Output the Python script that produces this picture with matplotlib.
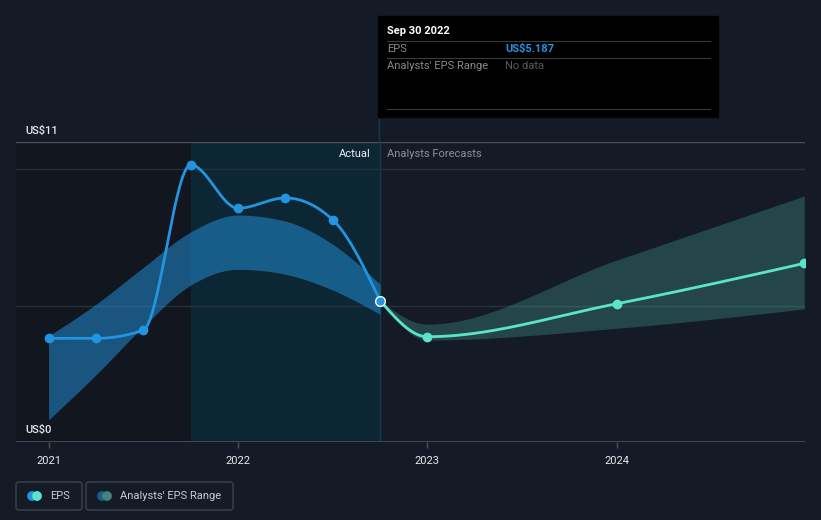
import numpy as np
import matplotlib
matplotlib.use('Agg')
import matplotlib.pyplot as plt
from matplotlib.patches import Rectangle, FancyBboxPatch, Circle

plt.rcParams['font.family'] = ['Roboto', 'DejaVu Sans']

# actual EPS, quarterly (decimal years)
past_x = [2021.0, 2021.25, 2021.5, 2021.75, 2022.0, 2022.25, 2022.5, 2022.75]
past_eps = [3.80, 3.80, 4.10, 10.16, 8.57, 8.95, 8.15, 5.187]
# band shown over the actual period
past_hi = [3.89, 5.05, 6.40, 7.70, 8.32, 8.10, 7.25, 5.79]
past_lo = [0.81, 2.46, 4.23, 5.75, 6.33, 6.15, 5.57, 4.68]

# analysts forecasts
fc_x = [2022.75, 2023.0, 2024.0, 2024.99]
fc_eps = [5.187, 3.86, 5.07, 6.55]
fc_hi = [5.187, 4.32, 6.67, 9.02]
fc_lo = [5.187, 3.74, 4.17, 4.88]

xticks = [2021, 2022, 2023, 2024]
xlabels = ['2021', '2022', '2023', '2024']

BG = '#151b26'
BLUE = '#2394df'
TEAL = '#5ce3cb'


def monotone(xs, ys, n=60):
    # monotone cubic (same idea as d3 curveMonotoneX) for the smooth lines
    xs = np.asarray(xs, float)
    ys = np.asarray(ys, float)
    h = np.diff(xs)
    s = np.diff(ys) / h
    t = np.zeros(len(xs))
    for i in range(1, len(xs) - 1):
        p = (s[i - 1] * h[i] + s[i] * h[i - 1]) / (h[i - 1] + h[i])
        t[i] = (np.sign(s[i - 1]) + np.sign(s[i])) * min(abs(s[i - 1]), abs(s[i]), 0.5 * abs(p))
    t[0] = (3 * s[0] - t[1]) / 2 if len(xs) > 2 else s[0]
    t[-1] = (3 * s[-1] - t[-2]) / 2 if len(xs) > 2 else s[-1]
    outx, outy = [], []
    for i in range(len(xs) - 1):
        u = np.linspace(0, 1, n)
        h00 = 2 * u**3 - 3 * u**2 + 1
        h10 = u**3 - 2 * u**2 + u
        h01 = -2 * u**3 + 3 * u**2
        h11 = u**3 - u**2
        outx.extend(xs[i] + u * h[i])
        outy.extend(h00 * ys[i] + h10 * h[i] * t[i] + h01 * ys[i + 1] + h11 * h[i] * t[i + 1])
    return np.array(outx), np.array(outy)


W, H = 821, 520
fig = plt.figure(figsize=(W / 100, H / 100), dpi=100, facecolor=BG)


def fx(x):
    return x / W


def fy(y):
    return 1 - y / H


ax = fig.add_axes([fx(16), fy(442), fx(805) - fx(16), fy(142) - fy(442)])
ax.set_facecolor(BG)
ax.set_xlim(2020.828, 2024.994)
ax.set_ylim(0, 11)
for sp in ax.spines.values():
    sp.set_visible(False)

# past area and hover highlight
ax.axvspan(2020.828, 2022.75, color='#11161f', zorder=0)
ax.axvspan(2021.75, 2022.75, color='#0c2634', zorder=0.5)
ax.axvline(2022.75, color='#123b4b', lw=1, zorder=0.6)
# hover line continues up to the tooltip
fig.lines.append(plt.Line2D([fx(379), fx(379)], [fy(142), fy(117)], transform=fig.transFigure,
                            color='#123b4b', lw=1))

# gridlines
ax.axhline(11, color='#4b5059', lw=1, zorder=1)
ax.axhline(10, color='#2a303a', lw=1, zorder=1)
ax.axhline(5, color='#2a303a', lw=1, zorder=1)
ax.axhline(0, color='#4b5059', lw=1.2, zorder=1)

# bands
bx, bh = monotone(past_x, past_hi)
_, bl = monotone(past_x, past_lo)
ax.fill_between(bx, bl, bh, color=BLUE, alpha=0.5, lw=0, zorder=2)
fx_, fh = monotone(fc_x, fc_hi)
_, fl = monotone(fc_x, fc_lo)
ax.fill_between(fx_, fl, fh, color=TEAL, alpha=0.22, lw=0, zorder=2)

# lines
lx, ly = monotone(fc_x, fc_eps)
ax.plot(lx, ly, color=TEAL, lw=2, zorder=3, solid_capstyle='round')
ax.plot(fc_x[1:], fc_eps[1:], 'o', color=TEAL, ms=6, zorder=4)
lx, ly = monotone(past_x, past_eps)
ax.plot(lx, ly, color=BLUE, lw=2, zorder=3, solid_capstyle='round')
ax.plot(past_x[:-1], past_eps[:-1], 'o', color=BLUE, ms=6, zorder=4)
ax.plot(past_x[-1:], past_eps[-1:], 'o', color=BLUE, ms=7, mec='white', mew=1, zorder=5)

ax.set_xticks(xticks)
ax.set_xticklabels(xlabels)
ax.set_yticks([])
ax.tick_params(axis='x', colors='#4b5059', length=4, width=1, pad=6,
               labelcolor='#e8e8ea', labelsize=8)

# text on the plot
fig.text(fx(25), fy(131), 'US$11', color='#e8e8ea', fontsize=8, fontweight='medium', va='center')
fig.text(fx(25), fy(430), 'US$0', color='#e8e8ea', fontsize=8, fontweight='medium', va='center')
fig.text(fx(371), fy(154), 'Actual', color='#f0f0f2', fontsize=8, ha='right', va='center')
fig.text(fx(387), fy(154), 'Analysts Forecasts', color='#8b9099', fontsize=8, ha='left', va='center')

# tooltip
fig.patches.append(Rectangle((fx(378), fy(117)), fx(718) - fx(378), fy(16) - fy(117),
                             transform=fig.transFigure, color='black', zorder=10))
for yy in [41, 58, 109]:
    fig.lines.append(plt.Line2D([fx(387), fx(710)], [fy(yy), fy(yy)], transform=fig.transFigure,
                                color='#3a3a3c', lw=0.8, zorder=11))
fig.text(fx(387), fy(31), 'Sep 30 2022', color='white', fontsize=8, fontweight='bold', va='center', zorder=12)
fig.text(fx(387), fy(49), 'EPS', color='#8a8a8e', fontsize=8, va='center', zorder=12)
fig.text(fx(505), fy(49), 'US$5.187', color=BLUE, fontsize=8, fontweight='bold', va='center', zorder=12)
fig.text(fx(387), fy(66), "Analysts' EPS Range", color='#8a8a8e', fontsize=8, va='center', zorder=12)
fig.text(fx(505), fy(66), 'No data', color='#5c5c60', fontsize=8, va='center', zorder=12)

# legend boxes
for x0, x1 in [(16, 82), (86, 233)]:
    fig.patches.append(FancyBboxPatch((fx(x0), fy(510)), fx(x1) - fx(x0), fy(482) - fy(510),
                                      boxstyle='round,pad=0,rounding_size=0.004',
                                      transform=fig.transFigure, fc='none', ec='#3d424b', lw=1))
# legend icons, placed in inches so they stay round
for cx, col in [(32, BLUE), (37, TEAL), (102, '#1d5a86'), (107, '#3f857c')]:
    fig.patches.append(Circle((cx / 100, (H - 496) / 100), 0.042,
                              transform=fig.dpi_scale_trans, color=col))
fig.text(fx(50), fy(496), 'EPS', color='#c8cad0', fontsize=8, va='center')
fig.text(fx(120), fy(496), "Analysts' EPS Range", color='#c8cad0', fontsize=8, va='center')

fig.savefig('out.png', dpi=100, facecolor=BG)
